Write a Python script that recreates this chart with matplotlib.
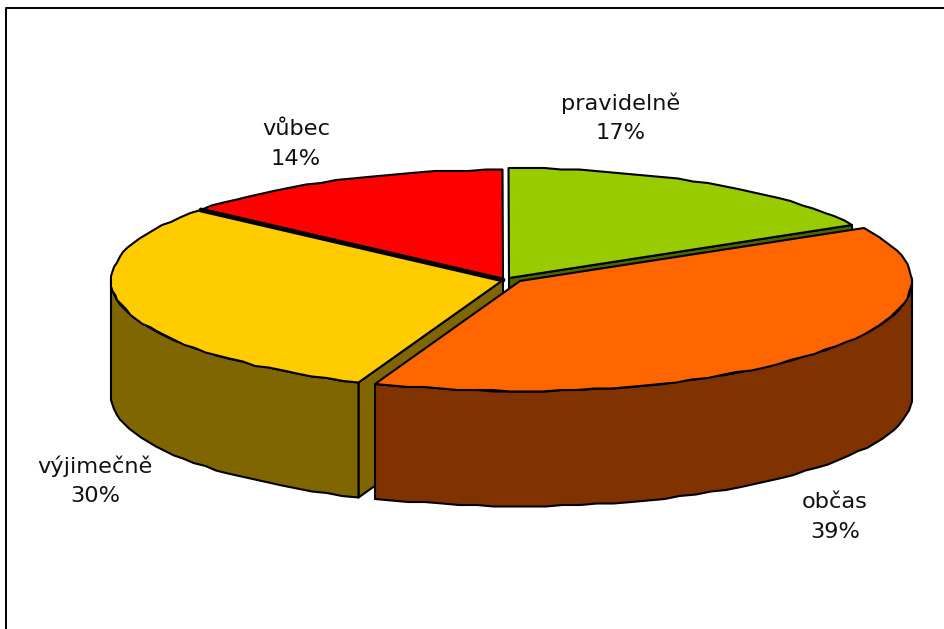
import numpy as np
import matplotlib
matplotlib.use("Agg")
import matplotlib.pyplot as plt
from matplotlib.patches import Polygon

categories = ["pravidelně", "občas", "výjimečně", "vůbec"]
values = [17, 39, 30, 14]
top_colors = ["#99CC00", "#FF6600", "#FFCC00", "#FF0000"]
side_colors = ["#4D6600", "#803300", "#806600", "#800000"]
centers = [(509, 278), (520, 281), (503, 280), (503, 280)]
label_pos = [(621, 118), (835, 517), (95, 481), (296, 144)]

RX, RY, DEPTH = 392, 110, 115
GRID = 1.5
LW = 1.5

fig = plt.figure(figsize=(9.44, 6.29), dpi=100)
ax = fig.add_axes([0, 0, 1, 1])
ax.set_xlim(0, 944)
ax.set_ylim(629, 0)
ax.axis("off")

fracs = np.array(values) / sum(values) * 360
starts = np.concatenate([[0], np.cumsum(fracs)[:-1]])


def rim(c, a0, a1):
    n = max(2, int((a1 - a0) / 2.5) + 1)
    t = np.radians(np.linspace(a0, a1, n))
    x = c[0] + RX * np.sin(t)
    y = c[1] - RY * np.cos(t)
    # slightly stepped edge, as rendered in the source chart
    x = np.round(x / GRID) * GRID
    y = np.round(y / GRID) * GRID
    return np.column_stack([x, y])


def add(pts, color, z):
    ax.add_patch(Polygon(pts, closed=True, facecolor=color, edgecolor="black",
                         linewidth=LW, joinstyle="round", zorder=z))


def drop(pts):
    return pts + np.array([0, DEPTH])


def top(i):
    c = centers[i]
    return np.vstack([[c], rim(c, starts[i], starts[i] + fracs[i])])


def wall(c, ang):
    r = rim(c, ang, ang)[0]
    p = np.array([c, r], dtype=float)
    return np.vstack([p, drop(p)[::-1]])


def side(c, a0, a1):
    r = rim(c, a0, a1)
    return np.vstack([r, drop(r)[::-1]])


# green: cut face then top
add(wall(centers[0], starts[0] + fracs[0]), side_colors[0], 1)
add(top(0), top_colors[0], 2)
# red
add(top(3), top_colors[3], 3)
# yellow: cut face, outer side, top
add(wall(centers[2], starts[2]), side_colors[2], 4)
add(side(centers[2], starts[2], 270), side_colors[2], 5)
add(top(2), top_colors[2], 6)
# thick divider between yellow and red
edge = np.array([centers[3], rim(centers[3], starts[3], starts[3])[0]])
ax.plot(edge[:, 0], edge[:, 1], color="black", lw=3.5, zorder=7, solid_capstyle="round")
# orange: outer side and top
add(side(centers[1], 90, starts[1] + fracs[1]), side_colors[1], 8)
add(top(1), top_colors[1], 9)

# frame
ax.plot([6, 6, 944], [629, 8, 8], color="black", lw=1.4, zorder=10, clip_on=False)

for name, v, (x, y) in zip(categories, values, label_pos):
    ax.text(x, y, f"{name}\n{v}%", ha="center", va="center", fontsize=16.2,
            family="DejaVu Sans", color="#111111", linespacing=1.58, zorder=11)

fig.savefig("out.png", dpi=100)
